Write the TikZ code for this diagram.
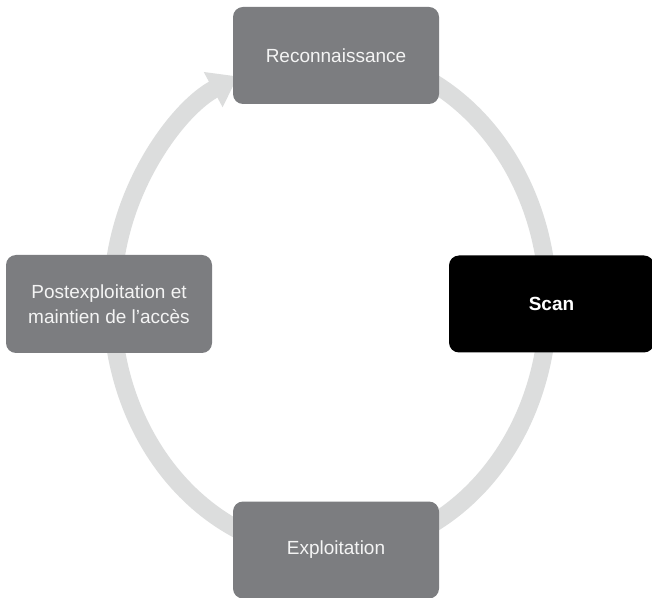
\documentclass[tikz,border=0pt]{standalone}
\usepackage{fontspec}
\setmainfont{Liberation Sans}
\usetikzlibrary{arrows.meta,backgrounds}
\definecolor{boxgray}{HTML}{7C7D80}
\definecolor{ringgray}{HTML}{DCDDDD}
\definecolor{labelwhite}{HTML}{F4F4F4}
\tikzset{
  phase/.style={rounded corners=10pt, fill=boxgray, text=labelwhite,
    minimum width=206pt, minimum height=97pt, inner sep=0pt, align=center,
    font=\fontsize{19}{25}\selectfont},
  current/.style={phase, fill=black, text=white,
    font=\fontsize{19}{25}\selectfont\bfseries},
  cycle ring/.style={draw=ringgray, line width=18pt,
    -{Triangle[width=38pt,length=28pt]}}
}
\begin{document}
\begin{tikzpicture}[x=1pt,y=1pt]
\useasboundingbox (0,0) rectangle (652,597);

% the four phases of the cycle
\node[phase]   (recon)   at (336,541.5) {Reconnaissance};
\node[current, minimum width=205pt] (scan) at (551.5,293) {Scan};
\node[phase]   (exploit) at (336,47)    {Exploitation};
\node[phase, minimum height=98pt] (post) at (109,293)
  {Postexploitation et\\maintien de l’accès};

% the cycle ring, running clockwise behind the boxes
\begin{scope}[on background layer]
  \fill[white] (0,0) rectangle (652,597);
  \coordinate (ringc) at (330,294);
  \draw[cycle ring] ([shift={(70:218 and 250)}]ringc)
    arc[start angle=70, end angle=-245, x radius=218, y radius=250];
\end{scope}
\end{tikzpicture}
\end{document}
